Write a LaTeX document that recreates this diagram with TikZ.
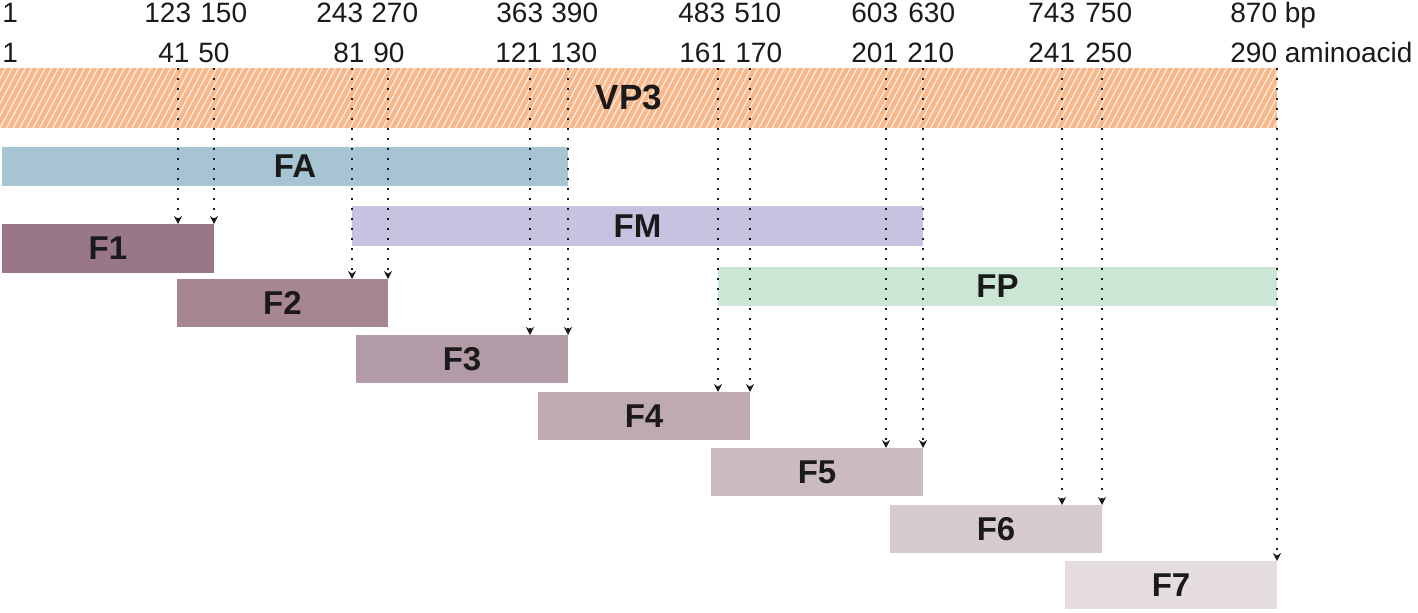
\documentclass[tikz,border=0pt]{standalone}
\usepackage{fontspec}
\setmainfont{Liberation Sans}
\usetikzlibrary{arrows.meta}
\definecolor{cVP}{HTML}{F9B88B}
\definecolor{cFA}{HTML}{A6C4D1}
\definecolor{cFM}{HTML}{C6C3E0}
\definecolor{cFP}{HTML}{CBE6D4}
\definecolor{cF1}{HTML}{9A7787}
\definecolor{cF2}{HTML}{A68693}
\definecolor{cF3}{HTML}{B29AA6}
\definecolor{cF4}{HTML}{BFA9B3}
\definecolor{cF5}{HTML}{CBBAC1}
\definecolor{cF6}{HTML}{D8CBD0}
\definecolor{cF7}{HTML}{E5DCE0}
\definecolor{ink}{HTML}{1A1A1A}
\begin{document}
\begin{tikzpicture}[x=0.5pt,y=-0.5pt,
  bar/.style={anchor=north west, inner sep=0pt, outer sep=0pt, draw=none,
    font=\fontsize{16.5}{18}\selectfont\bfseries, text=ink},
  num/.style={anchor=base west, inner sep=0pt, font=\fontsize{14}{16}\selectfont, text=ink},
  arr/.style={line width=1.3pt, dash pattern=on 1.2pt off 3.8pt,
    -{Stealth[length=4pt,width=4pt]}, ink},
  hatch/.style={white, line width=0.55pt, opacity=0.85}]
\useasboundingbox (0,0) rectangle (1418,612);

% numbers
\foreach \t/\x in {1/2,123/144,150/200,243/316,270/371,363/496,390/551,483/678,510/734,603/851,630/908,743/1028,750/1085}
  \node[num] (b\t) at (\x,22) {\t};
\node[num] (b870) at (1230,22) {870 bp};
\foreach \t/\x in {1/2,41/158,50/198,81/333,90/373,121/495,130/550,161/679,170/735,201/851,210/907,241/1028,250/1085}
  \node[num] (a\t) at (\x,62) {\t};
\node[num] (a290) at (1230,62) {290 aminoacid};

% VP3 bar with hatching
\node[bar, fill=cVP, minimum width=638.5pt, minimum height=30pt] (vp3) at (0,68) {};
\begin{scope}
  \clip (vp3.north west) rectangle (vp3.south east);
  \foreach \i in {-10,...,200}
    \draw[hatch] ({\i*6.6},128) -- ({\i*6.6+32},68);
\end{scope}
\node[font=\fontsize{17.5}{19}\selectfont\bfseries, text=ink, inner sep=0pt] (vp3lbl) at (629,97) {VP3};

% fragment bars
\node[bar, fill=cFA, minimum width=283pt, minimum height=19.5pt,
  label={[font=\fontsize{16.5}{18}\selectfont\bfseries, text=ink, xshift=5pt]center:FA}] (fa) at (2,147) {};
\node[bar, fill=cFM, minimum width=285.5pt, minimum height=20pt] (fm) at (352,206) {FM};
\node[bar, fill=cFP, minimum width=279.5pt, minimum height=19.5pt] (fp) at (718,267) {FP};
\node[bar, fill=cF1, minimum width=106pt, minimum height=24.5pt] (f1) at (2,224) {F1};
\node[bar, fill=cF2, minimum width=105.5pt, minimum height=24pt] (f2) at (177,279) {F2};
\node[bar, fill=cF3, minimum width=106pt, minimum height=24pt] (f3) at (356,335) {F3};
\node[bar, fill=cF4, minimum width=106pt, minimum height=24pt] (f4) at (538,392) {F4};
\node[bar, fill=cF5, minimum width=106pt, minimum height=24pt] (f5) at (711,448) {F5};
\node[bar, fill=cF6, minimum width=106pt, minimum height=24pt] (f6) at (890,505) {F6};
\node[bar, fill=cF7, minimum width=106pt, minimum height=24pt] (f7) at (1065,561) {F7};

% dotted arrows
\foreach \x/\t in {178/f1,214/f1,352/f2,388/f2,530/f3,568/f3,718/f4,750/f4,886/f5,923/f5,1062/f6,1102/f6,1277/f7}
  \draw[arr] (vp3.north -| \x,0) -- (\t.north -| \x,0);
\end{tikzpicture}
\end{document}
